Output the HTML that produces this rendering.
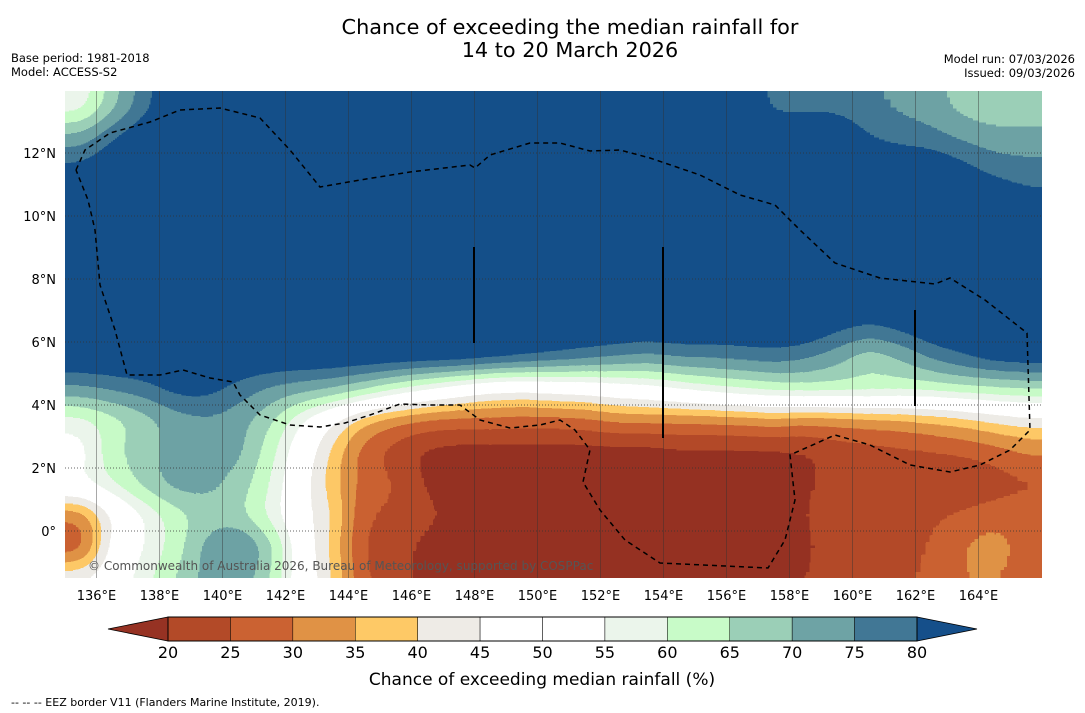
<!DOCTYPE html>
<html><head><meta charset="utf-8"><style>
body{margin:0;background:#fff;font-family:"DejaVu Sans","Liberation Sans",sans-serif}
svg{display:block}
</style></head><body>
<svg width="1085" height="713" viewBox="0 0 1085 713" xmlns="http://www.w3.org/2000/svg" font-family="DejaVu Sans, Liberation Sans, sans-serif">
<defs>
<clipPath id="mapclip"><rect x="65" y="91" width="977" height="487"/></clipPath>
<filter id="contour" x="-10%" y="-10%" width="120%" height="120%" color-interpolation-filters="sRGB">
<feGaussianBlur stdDeviation="14"/>
<feComponentTransfer>
<feFuncR type="discrete" tableValues="0.588 0.588 0.588 0.588 0.702 0.796 0.878 0.996 0.933 1 1 0.922 0.784 0.608 0.431 0.255 0.082 0.082 0.082 0.082"/>
<feFuncG type="discrete" tableValues="0.196 0.196 0.196 0.196 0.290 0.384 0.573 0.788 0.922 1 1 0.961 0.984 0.812 0.639 0.467 0.310 0.310 0.310 0.310"/>
<feFuncB type="discrete" tableValues="0.137 0.137 0.137 0.137 0.157 0.196 0.271 0.400 0.902 1 1 0.922 0.784 0.718 0.647 0.584 0.541 0.541 0.541 0.541"/>
<feFuncA type="discrete" tableValues="0 1 1 1 1 1 1 1 1 1 1 1 1 1 1 1 1 1 1 1"/>
</feComponentTransfer>
</filter>
</defs>
<text x="570" y="34" text-anchor="middle" font-size="20.8">Chance of exceeding the median rainfall for</text>
<text x="570" y="57" text-anchor="middle" font-size="20.8">14 to 20 March 2026</text>
<text x="11" y="62" font-size="11.5">Base period: 1981-2018</text>
<text x="11" y="76" font-size="11.5">Model: ACCESS-S2</text>
<text x="1075" y="63" font-size="11.5" text-anchor="end">Model run: 07/03/2026</text>
<text x="1075" y="77" font-size="11.5" text-anchor="end">Issued: 09/03/2026</text>
<g clip-path="url(#mapclip)">
<rect x="65" y="91" width="977" height="487" fill="#154f8a"/>
<g id="cells" filter="url(#contour)"></g>
<g id="grid"></g>
<path id="eez" fill="none" stroke="#000" stroke-width="1.5" stroke-dasharray="5,4" d="M76,170 L85,150 L110,133 L150,122 L180,110 L220,108 L260,118 L290,150 L320,187 L360,180 L410,172 L470,165 L475,168 L490,155 L530,143 L560,143 L590,151 L620,150 L650,158 L700,175 L740,195 L775,205 L800,230 L835,263 L880,278 L935,284 L950,278 L985,300 L1027,333 L1030,430 L1010,450 L980,465 L950,472 L910,465 L870,445 L835,435 L790,455 L795,500 L785,540 L768,568 L660,563 L625,540 L600,510 L583,482 L590,450 L575,430 L560,420 L540,425 L510,428 L480,420 L460,405 L430,405 L400,404 L370,415 L345,423 L320,427 L290,425 L260,415 L240,395 L233,382 L210,378 L183,370 L160,375 L127,375 L115,330 L100,285 L95,230 L88,200 L76,170"/>
<g stroke="#000" stroke-width="2">
<line x1="474" y1="247" x2="474" y2="343"/>
<line x1="663" y1="247" x2="663" y2="438"/>
<line x1="915" y1="310" x2="915" y2="406"/>
</g>
<text x="88" y="570" font-size="12" fill="#555">© Commonwealth of Australia 2026, Bureau of Meteorology, supported by COSPPac</text>
</g>
<g id="axes" font-size="13"></g>
<g id="cbar"></g>
<text x="542" y="685" text-anchor="middle" font-size="17">Chance of exceeding median rainfall (%)</text>
<text x="11" y="706" font-size="11">--  --  -- EEZ border V11 (Flanders Marine Institute, 2019).</text>
</svg>
<script>
const lons=[135.5,136.5,137.5,138.5,139.5,140.5,141.5,142.5,143.5,144.5,145.5,146.5,147.5,148.5,149.5,150.5,151.5,152.5,153.5,154.5,155.5,156.5,157.5,158.5,159.5,160.5,161.5,162.5,163.5,164.5,165.5];
const lats=[13.5,12.5,11.5,10.5,9.5,8.5,7.5,6.5,5.5,4.5,3.5,2.5,1.5,0.5,-0.5,-1.5];
const F=85;
const values=[
[56,68,78,F,F,F,F,F,F,F,F,F,F,F,F,F,F,F,F,F,F,F,78,78,78,76,74,72,68,66,66],
[72,80,F,F,F,F,F,F,F,F,F,F,F,F,F,F,F,F,F,F,F,F,F,F,F,80,78,77,74,72,72],
[82,F,F,F,F,F,F,F,F,F,F,F,F,F,F,F,F,F,F,F,F,F,F,F,F,F,F,F,82,78,77],
[F,F,F,F,F,F,F,F,F,F,F,F,F,F,F,F,F,F,F,F,F,F,F,F,F,F,F,F,F,F,82],
[F,F,F,F,F,F,F,F,F,F,F,F,F,F,F,F,F,F,F,F,F,F,F,F,F,F,F,F,F,F,F],
[F,F,F,F,F,F,F,F,F,F,F,F,F,F,F,F,F,F,F,F,F,F,F,F,F,F,F,F,F,F,F],
[F,F,F,F,F,F,F,F,F,F,F,F,F,F,F,F,F,F,F,F,F,F,F,F,F,F,F,F,F,F,F],
[F,F,F,F,F,F,F,F,F,F,F,F,F,F,F,F,F,F,F,F,F,F,F,F,82,80,82,F,F,F,F],
[F,F,F,F,F,F,F,F,F,F,F,F,F,84,82,80,78,76,74,76,76,77,78,76,72,66,70,76,80,83,84],
[74,76,78,82,82,78,74,72,70,66,60,55,50,46,45,47,48,50,52,55,58,60,62,63,63,63,62,62,63,64,65],
[57,62,67,72,74,72,66,55,45,35,30,28,27,28,27,27,28,30,30,30,30,31,32,30,31,32,33,35,37,40,42],
[52,64,68,72,72,72,62,50,38,27,22,18,17,17,17,17,17,17,17,18,18,18,18,19,21,22,23,24,25,27,30],
[55,60,67,73,72,68,60,48,37,28,25,19,17,17,17,17,17,17,17,17,17,17,17,19,22,22,22,21,20,22,24],
[30,45,55,62,67,66,58,48,40,25,24,21,18,17,17,17,17,17,17,17,17,17,17,20,22,23,23,24,26,28,28],
[25,48,55,62,72,78,68,50,38,24,22,18,17,17,17,17,17,17,17,17,17,17,17,19,22,23,23,25,30,33,28],
[45,50,58,65,72,74,65,50,40,25,22,18,17,17,17,17,17,17,17,17,17,17,17,20,22,24,24,26,30,30,28]];
const xTicks=[136,138,140,142,144,146,148,150,152,154,156,158,160,162,164];
const yTicks=[0,2,4,6,8,10,12];
const levels=[20,25,30,35,40,45,50,55,60,65,70,75,80];
const levelColors=["#b34a28","#cb6232","#e09245","#fec966","#eeebe6","#ffffff","#ffffff","#ebf5eb","#c8fbc8","#9bcfb7","#6ea3a5","#417795"];
const NS="http://www.w3.org/2000/svg";
const xOf=lon=>65+(lon-135)*31.5;
const yOf=lat=>531-lat*31.5;
const cells=document.getElementById('cells');
lats.forEach((lat,r)=>{lons.forEach((lon,c)=>{
  let x0=xOf(lon-0.5),x1=xOf(lon+0.5),y0=yOf(lat+0.5),y1=yOf(lat-0.5);
  if(c===0)x0-=60; if(c===lons.length-1)x1+=60; if(r===0)y0-=60; if(r===lats.length-1)y1+=60;
  const g=Math.round(values[r][c]/100*255);
  const el=document.createElementNS(NS,'rect');
  
  
  el.setAttribute('x',x0);el.setAttribute('y',y0);el.setAttribute('width',x1-x0+0.5);el.setAttribute('height',y1-y0+0.5);
  el.setAttribute('fill',`rgb(${g},${g},${g})`);
  cells.appendChild(el);
});});
const grid=document.getElementById('grid'),axes=document.getElementById('axes');
xTicks.forEach(t=>{
  const l=document.createElementNS(NS,'line');
  
  
  l.setAttribute('x1',xOf(t));l.setAttribute('x2',xOf(t));l.setAttribute('y1',91);l.setAttribute('y2',578);
  l.setAttribute('stroke','#333');l.setAttribute('stroke-width','0.6');l.setAttribute('opacity','0.7');
  grid.appendChild(l);
  const tx=document.createElementNS(NS,'text');
  
  
  tx.setAttribute('x',xOf(t));tx.setAttribute('y',600);tx.setAttribute('text-anchor','middle');
  tx.textContent=t+'°E';axes.appendChild(tx);
});
yTicks.forEach(t=>{
  const l=document.createElementNS(NS,'line');
  
  
  l.setAttribute('x1',65);l.setAttribute('x2',1042);l.setAttribute('y1',yOf(t));l.setAttribute('y2',yOf(t));
  l.setAttribute('stroke','#333');l.setAttribute('stroke-width','0.7');l.setAttribute('stroke-dasharray','1,2');
  grid.appendChild(l);
  const tx=document.createElementNS(NS,'text');
  
  
  tx.setAttribute('x',56);tx.setAttribute('y',yOf(t)+5);tx.setAttribute('text-anchor','end');
  tx.textContent=t===0?'0°':t+'°N';axes.appendChild(tx);
});
const cb=document.getElementById('cbar');
const cx=v=>168+(v-20)*(749/60);
const y0=617,y1=641;
function add(tag,attrs,name){const e=document.createElementNS(NS,tag);
  
  
  for(const k in attrs)e.setAttribute(k,attrs[k]);cb.appendChild(e);return e;}
add('polygon',{points:`168,${y0} 108,629 168,${y1}`,fill:'#963223',stroke:'#000','stroke-width':0.8},'colorbar-low-extension');
add('polygon',{points:`917,${y0} 977,629 917,${y1}`,fill:'#154f8a',stroke:'#000','stroke-width':0.8},'colorbar-high-extension');
levelColors.forEach((col,i)=>{
  add('rect',{x:cx(levels[i]),y:y0,width:cx(levels[i+1])-cx(levels[i]),height:y1-y0,fill:col,stroke:'#000','stroke-width':0.5},'colorbar-segment');
});
add('rect',{x:168,y:y0,width:749,height:y1-y0,fill:'none',stroke:'#000','stroke-width':1},'colorbar-outline');
levels.forEach(v=>{const t=add('text',{x:cx(v),y:658,'text-anchor':'middle','font-size':16},'colorbar-tick-label');t.textContent=v;});
</script>
</body></html>
